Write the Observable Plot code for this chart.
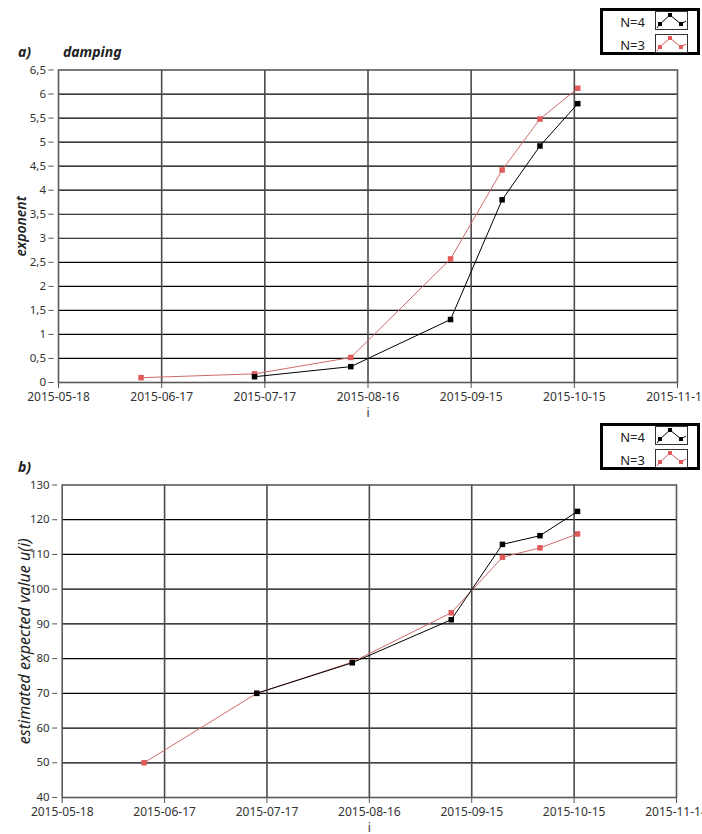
<!DOCTYPE html>
<html>
<head>
<meta charset="utf-8">
<script src="https://cdn.jsdelivr.net/npm/d3@7"></script>
<script src="https://cdn.jsdelivr.net/npm/@observablehq/plot@0.6"></script>
<style>
  html, body { margin: 0; padding: 0; background: #fff; }
  #wrap { position: relative; width: 702px; height: 834px; overflow: hidden; font-family: "Noto Sans", sans-serif; }
  .abs { position: absolute; }
  .title { font-weight: bold; font-style: italic; font-size: 14px; color: #222; line-height: 16px; }
  .legend { position: absolute; width: 94px; height: 41px; border: 3px solid #000; background: #fff; }
  .legrow { position: absolute; left: 0; width: 94px; height: 20px; }
  .legtxt { position: absolute; right: 52px; font-size: 13px; color: #222; line-height: 18px; }
  .legicon { position: absolute; left: 52px; }
</style>
</head>
<body>
<div id="wrap"></div>
<script>
// ---- data ----
const dates = ["2015-06-11", "2015-07-14", "2015-08-11", "2015-09-09", "2015-09-24", "2015-10-05", "2015-10-16"];
const exponentN4 = [null, 0.12, 0.33, 1.31, 3.80, 4.92, 5.80];
const exponentN3 = [0.10, 0.18, 0.52, 2.57, 4.42, 5.48, 6.12];
const expectedN4 = [null, 70.0, 78.8, 91.2, 112.9, 115.4, 122.4];
const expectedN3 = [50.0, 70.0, 79.0, 93.2, 109.2, 111.9, 115.9];
const seriesNames = ["N=4", "N=3"];
const seriesColors = ["#000000", "#e05a5a"];
const lineColors = ["#000000", "#cf6b6b"];
const xTickLabels = ["2015-05-18", "2015-06-17", "2015-07-17", "2015-08-16", "2015-09-15", "2015-10-15", "2015-11-14"];
const exponentTicks = [0, 0.5, 1, 1.5, 2, 2.5, 3, 3.5, 4, 4.5, 5, 5.5, 6, 6.5];
const expectedTicks = [40, 50, 60, 70, 80, 90, 100, 110, 120, 130];

const xTicks = xTickLabels.map(d => new Date(d));
function rows(values, s) {
  return dates.map((d, i) => ({date: new Date(d), v: values[i], s})).filter(r => r.v != null);
}

function chart({yTicks, fmt, left, right, svgTop, svgHeight, frameTop, frameBottom, ylabel, ylabelX, ylabelWeight, ylabelSize, dataN4, dataN3}) {
  const plot = Plot.plot({
    width: 702,
    height: svgHeight,
    marginLeft: left,
    marginRight: 702 - right,
    marginTop: frameTop - svgTop,
    marginBottom: svgTop + svgHeight - frameBottom,
    style: {fontFamily: "'Noto Sans', sans-serif", fontSize: "12px", color: "#333", background: "transparent", overflow: "visible"},
    x: {type: "utc", domain: [xTicks[0], xTicks[xTicks.length - 1]]},
    y: {domain: [yTicks[0], yTicks[yTicks.length - 1]]},
    marks: [
      Plot.gridY(yTicks.slice(1, -1), {stroke: "#000", strokeWidth: 1.2, strokeOpacity: 1}),
      Plot.gridX(xTicks.slice(1, -1), {stroke: "#4a4a4a", strokeWidth: 1.6, strokeOpacity: 1}),
      Plot.frame({stroke: "#5a5a5a", strokeWidth: 1.6}),
      Plot.axisX(xTicks, {tickFormat: d3.utcFormat("%Y-%m-%d"), tickSize: 5, tickPadding: 4, dy: 1, label: null, stroke: "#555", fill: "#333"}),
      Plot.axisY(yTicks, {tickFormat: fmt, tickSize: 5, tickPadding: 3, dx: -4.5, label: null, stroke: "#555", fill: "#333", fontSize: 11.5}),
      Plot.line(dataN3, {x: "date", y: "v", stroke: lineColors[1], strokeWidth: 1}),
      Plot.dot(dataN3, {x: "date", y: "v", symbol: "square", r: 3.1, fill: seriesColors[1], stroke: "none"}),
      Plot.line(dataN4, {x: "date", y: "v", stroke: lineColors[0], strokeWidth: 1}),
      Plot.dot(dataN4, {x: "date", y: "v", symbol: "square", r: 3.1, fill: seriesColors[0], stroke: "none"}),
      Plot.text(["i"], {frameAnchor: "bottom", dy: 34, fontSize: 12, fill: "#333"}),
      Plot.text([ylabel], {frameAnchor: "left", textAnchor: "middle", dx: ylabelX - left, rotate: -90, fontSize: ylabelSize, fontStyle: "italic", fontWeight: ylabelWeight, fill: "#222"})
    ]
  });
  plot.style.position = "absolute";
  plot.style.left = "0px";
  plot.style.top = svgTop + "px";
  return plot;
}

const wrap = document.getElementById("wrap");

wrap.appendChild(chart({
  yTicks: exponentTicks, fmt: d => String(d).replace(".", ","),
  left: 58, right: 677, svgTop: 0, svgHeight: 430, frameTop: 69.5, frameBottom: 382,
  ylabel: "exponent", ylabelX: 21, ylabelWeight: 600, ylabelSize: 14,
  dataN4: rows(exponentN4, seriesNames[0]), dataN3: rows(exponentN3, seriesNames[1])
}));

wrap.appendChild(chart({
  yTicks: expectedTicks, fmt: d => String(d),
  left: 61.7, right: 676, svgTop: 410, svgHeight: 424, frameTop: 484.5, frameBottom: 797,
  ylabel: "estimated expected value u(i)", ylabelX: 24, ylabelWeight: 400, ylabelSize: 16,
  dataN4: rows(expectedN4, seriesNames[0]), dataN3: rows(expectedN3, seriesNames[1])
}));

// titles
function addText(cls, txt, x, y) {
  const el = document.createElement("div");
  el.className = "abs " + cls;
  el.textContent = txt;
  el.style.left = x + "px";
  el.style.top = y + "px";
  wrap.appendChild(el);
}
addText("title", "a)", 18, 44);
addText("title", "damping", 63, 44);
addText("title", "b)", 18, 459);

// legends
function icon(color) {
  return `<svg width="31" height="17" style="display:block;border:1px solid #333;background:#fff">
    <polyline points="1,16 4,12 14,3 25,12 30,9" fill="none" stroke="${color}" stroke-width="1"/>
    <rect x="2" y="10" width="4" height="4" fill="${color}"/>
    <rect x="12" y="1" width="4" height="4" fill="${color}"/>
    <rect x="23" y="10" width="4" height="4" fill="${color}"/>
  </svg>`;
}
function addLegend(top) {
  const lg = document.createElement("div");
  lg.className = "legend";
  lg.style.left = "600px";
  lg.style.top = top + "px";
  seriesNames.forEach((name, i) => {
    const row = document.createElement("div");
    row.className = "legrow";
    row.style.top = (i === 0 ? 0 : 23) + "px";
    row.innerHTML = `<span class="legtxt" style="top:2px">${name}</span><span class="legicon" style="top:0px">${icon(seriesColors[i])}</span>`;
    lg.appendChild(row);
  });
  wrap.appendChild(lg);
}
addLegend(8);
addLegend(423);
</script>
</body>
</html>
